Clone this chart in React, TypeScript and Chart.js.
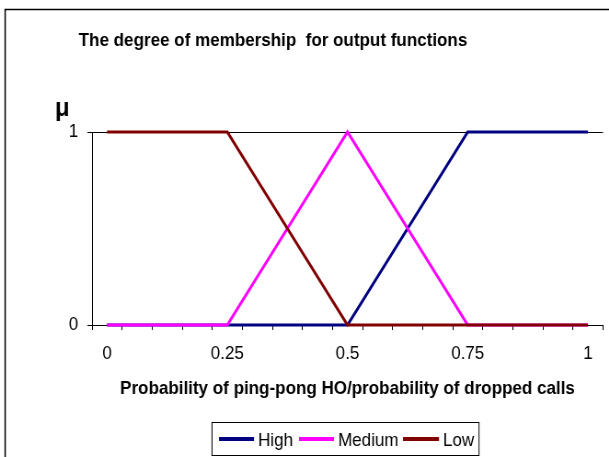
import React, { useEffect, useRef } from "react";
import { Chart, registerables } from "chart.js";

Chart.register(...registerables);

// Category positions along the x axis (Probability of ping-pong HO / dropped calls)
const xValues = [0, 0.0625, 0.125, 0.1875, 0.25, 0.3125, 0.375, 0.4375, 0.5, 0.5625, 0.625, 0.6875, 0.75, 0.8125, 0.875, 0.9375, 1];
// Only these categories get a visible tick label
const xTickLabels = ["0", "0.25", "0.5", "0.75", "1"];

// Membership degrees of the three output functions
const highValues = [0, 0, 0, 0, 0, 0, 0, 0, 0, 0.25, 0.5, 0.75, 1, 1, 1, 1, 1];
const mediumValues = [0, 0, 0, 0, 0, 0.25, 0.5, 0.75, 1, 0.75, 0.5, 0.25, 0, 0, 0, 0, 0];
const lowValues = [1, 1, 1, 1, 1, 0.75, 0.5, 0.25, 0, 0, 0, 0, 0, 0, 0, 0, 0];

const seriesNames = ["High", "Medium", "Low"];
const seriesColors = ["#000080", "#FF00FF", "#800000"];

const titleText = "The degree of membership  for output functions";
const xTitleText = "Probability of ping-pong HO/probability of dropped calls";
const yTitleText = "\u03BC";

const FONT = '"Liberation Sans", Arial, sans-serif';
const SX = 0.92; // horizontal condensing of the whole drawing
const W = Math.round(609 / SX);
const H = 457;

const decorPlugin = {
  id: "decor",
  beforeDraw(chart: any) {
    const { ctx } = chart;
    ctx.save();
    ctx.fillStyle = "#ffffff";
    ctx.fillRect(0, 0, chart.width, chart.height);
    ctx.strokeStyle = "#000000";
    ctx.lineWidth = 1.5;
    ctx.strokeRect(5.6, 9.5, 2000, 2000);
    ctx.restore();
  },
  afterDraw(chart: any) {
    const { ctx, chartArea } = chart;
    ctx.save();
    ctx.fillStyle = "#000000";
    ctx.textBaseline = "alphabetic";

    // chart title
    ctx.font = `bold 18.5px ${FONT}`;
    ctx.textAlign = "center";
    ctx.fillText(titleText, 273 / SX, 45.6);

    // x axis title
    ctx.fillText(xTitleText, (chartArea.left + chartArea.right) / 2, 394);

    // y axis symbol
    ctx.font = `bold 26px ${FONT}`;
    ctx.textAlign = "left";
    ctx.fillText(yTitleText, 55 / SX, 116);

    // legend
    const bx = 212 / SX;
    const bw = (479 - 212) / SX;
    ctx.strokeStyle = "#000000";
    ctx.lineWidth = 1;
    ctx.strokeRect(bx, 422.5, bw, 33);
    const items = [
      { x0: 219, x1: 254, tx: 258 },
      { x0: 299, x1: 334, tx: 338 },
      { x0: 403, x1: 439, tx: 443 },
    ];
    ctx.font = `18.5px ${FONT}`;
    items.forEach((it, i) => {
      ctx.strokeStyle = seriesColors[i];
      ctx.lineWidth = 4;
      ctx.beginPath();
      ctx.moveTo(it.x0 / SX, 439);
      ctx.lineTo(it.x1 / SX, 439);
      ctx.stroke();
      ctx.fillStyle = "#000000";
      ctx.fillText(seriesNames[i], it.tx / SX, 445.7);
    });
    ctx.restore();
  },
};

export default function App() {
  const canvasRef = useRef<HTMLCanvasElement | null>(null);

  useEffect(() => {
    document.body.style.margin = "0";
    document.documentElement.style.overflow = "hidden";
    const canvas = canvasRef.current;
    if (!canvas) return;
    const seriesData = [highValues, mediumValues, lowValues];
    const chart = new Chart(canvas, {
      type: "line",
      data: {
        labels: xValues.map((v) => String(v)),
        datasets: seriesData.map((d, i) => ({
          label: seriesNames[i],
          data: d,
          borderColor: seriesColors[i],
          backgroundColor: seriesColors[i],
          borderWidth: 3,
          pointRadius: 0,
          tension: 0,
          fill: false,
          clip: false,
          order: 2 - i,
        })),
      },
      options: {
        responsive: false,
        animation: false,
        devicePixelRatio: 1,
        layout: { padding: { top: 132, right: W - 603 / SX, bottom: 0, left: 0 } },
        plugins: {
          legend: { display: false },
          title: { display: false },
          tooltip: { enabled: false },
        },
        scales: {
          x: {
            type: "category",
            offset: true,
            afterFit: (scale: any) => {
              scale.height = H - 325;
            },
            grid: {
              offset: true,
              drawOnChartArea: false,
              drawTicks: true,
              tickLength: 5,
              tickColor: "#000000",
              color: "#000000",
            },
            border: { display: true, color: "#000000", width: 1 },
            ticks: {
              autoSkip: false,
              maxRotation: 0,
              padding: 13,
              color: "#000000",
              font: { family: FONT, size: 18.5 },
              callback: (_v: any, index: number) => {
                const s = String(xValues[index]);
                return xTickLabels.includes(s) ? s : "";
              },
            },
          },
          y: {
            min: 0,
            max: 1,
            afterFit: (scale: any) => {
              scale.width = 92 / SX;
            },
            grid: {
              drawOnChartArea: true,
              drawTicks: true,
              tickLength: 5,
              tickColor: "#000000",
              color: "#000000",
              lineWidth: 1,
            },
            border: { display: true, color: "#000000", width: 1 },
            ticks: {
              stepSize: 1,
              padding: 10,
              color: "#000000",
              font: { family: FONT, size: 18.5 },
            },
          },
        },
      },
      plugins: [decorPlugin],
    });
    return () => chart.destroy();
  }, []);

  return (
    <div style={{ width: 609, height: H, overflow: "hidden", position: "relative" }}>
      <div style={{ width: W, height: H, transform: `scaleX(${SX})`, transformOrigin: "0 0" }}>
        <canvas ref={canvasRef} width={W} height={H} />
      </div>
    </div>
  );
}
